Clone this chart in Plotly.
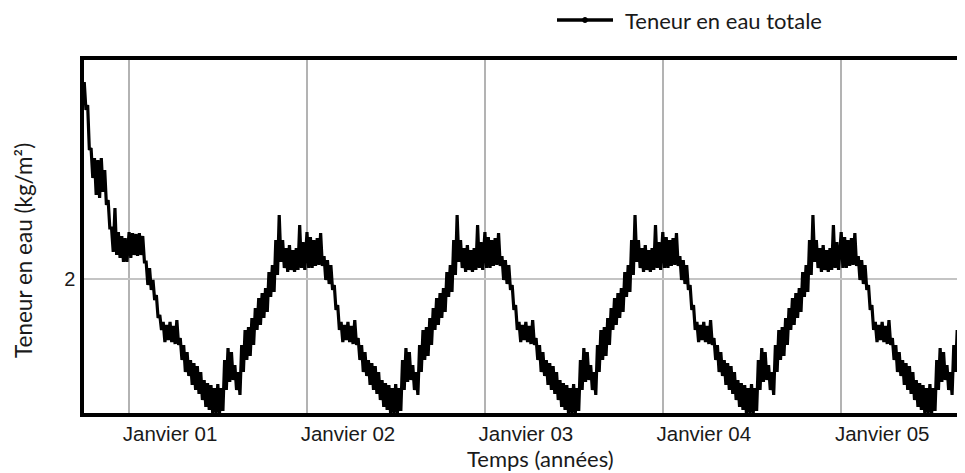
import pandas as pd
import plotly.graph_objects as go

# ---- data (weekly upper / lower envelope of the noisy series, kg/m2) ----
start_2000 = "2000-10-01"
hi_2000 = [2.788, 2.696, 2.524, 2.484, 2.476, 2.484, 2.436, 2.316, 2.204, 2.284, 2.188, 2.172, 2.164]
lo_2000 = [2.676, 2.516, 2.404, 2.336, 2.324, 2.348, 2.296, 2.204, 2.108, 2.096, 2.084, 2.068, 2.068]

hi_2001 = [2.188, 2.184, 2.180, 2.184, 2.172, 2.068, 2.044, 1.996, 1.936, 1.856,
           1.828, 1.816, 1.828, 1.812, 1.836, 1.764, 1.736, 1.708, 1.676, 1.664,
           1.652, 1.628, 1.596, 1.584, 1.576, 1.564, 1.580, 1.564, 1.676, 1.724,
           1.708, 1.656, 1.628, 1.736, 1.796, 1.808, 1.844, 1.884, 1.924, 1.944,
           1.964, 2.028, 2.056, 2.156, 2.256, 2.156, 2.124, 2.136, 2.116, 2.124,
           2.216, 2.148]
lo_2001 = [2.084, 2.096, 2.092, 2.096, 2.068, 1.976, 1.956, 1.916, 1.844, 1.796,
           1.748, 1.756, 1.748, 1.740, 1.736, 1.676, 1.628, 1.612, 1.576, 1.556,
           1.540, 1.516, 1.488, 1.476, 1.464, 1.464, 1.464, 1.472, 1.556, 1.588,
           1.596, 1.556, 1.536, 1.628, 1.676, 1.692, 1.736, 1.796, 1.816, 1.844,
           1.868, 1.928, 1.948, 2.016, 2.068, 2.044, 2.028, 2.036, 2.028, 2.036,
           2.044, 2.036]

hi_2002 = [2.188, 2.168, 2.156, 2.164, 2.184, 2.092, 2.076, 2.056, 1.976, 1.896,
           1.828, 1.816, 1.828, 1.812, 1.836, 1.764, 1.736, 1.708, 1.676, 1.664,
           1.652, 1.628, 1.596, 1.584, 1.576, 1.564, 1.580, 1.564, 1.676, 1.724,
           1.708, 1.656, 1.628, 1.736, 1.796, 1.808, 1.844, 1.884, 1.924, 1.944,
           1.964, 2.028, 2.056, 2.156, 2.256, 2.156, 2.124, 2.136, 2.116, 2.124,
           2.216, 2.148]
lo_2002 = [2.044, 2.044, 2.052, 2.056, 2.052, 1.996, 1.980, 1.956, 1.876, 1.796,
           1.748, 1.756, 1.748, 1.740, 1.736, 1.676, 1.628, 1.612, 1.576, 1.556,
           1.540, 1.516, 1.488, 1.476, 1.464, 1.464, 1.464, 1.472, 1.556, 1.588,
           1.596, 1.556, 1.536, 1.628, 1.676, 1.692, 1.736, 1.796, 1.816, 1.844,
           1.868, 1.928, 1.948, 2.016, 2.068, 2.044, 2.028, 2.036, 2.028, 2.036,
           2.044, 2.036]

hi_2003 = [2.188, 2.168, 2.156, 2.164, 2.184, 2.092, 2.076, 2.056, 1.976, 1.896,
           1.828, 1.816, 1.828, 1.812, 1.836, 1.764, 1.736, 1.708, 1.676, 1.664,
           1.652, 1.628, 1.596, 1.584, 1.576, 1.564, 1.580, 1.564, 1.676, 1.724,
           1.708, 1.656, 1.628, 1.736, 1.796, 1.808, 1.844, 1.884, 1.924, 1.944,
           1.964, 2.028, 2.056, 2.156, 2.256, 2.156, 2.124, 2.136, 2.116, 2.124,
           2.216, 2.148]
lo_2003 = [2.044, 2.044, 2.052, 2.056, 2.052, 1.996, 1.980, 1.956, 1.876, 1.796,
           1.748, 1.756, 1.748, 1.740, 1.736, 1.676, 1.628, 1.612, 1.576, 1.556,
           1.540, 1.516, 1.488, 1.476, 1.464, 1.464, 1.464, 1.472, 1.556, 1.588,
           1.596, 1.556, 1.536, 1.628, 1.676, 1.692, 1.736, 1.796, 1.816, 1.844,
           1.868, 1.928, 1.948, 2.016, 2.068, 2.044, 2.028, 2.036, 2.028, 2.036,
           2.044, 2.036]

hi_2004 = [2.188, 2.168, 2.156, 2.164, 2.184, 2.092, 2.076, 2.056, 1.976, 1.896,
           1.828, 1.816, 1.828, 1.812, 1.836, 1.764, 1.736, 1.708, 1.676, 1.664,
           1.652, 1.628, 1.596, 1.584, 1.576, 1.564, 1.580, 1.564, 1.676, 1.724,
           1.708, 1.656, 1.628, 1.736, 1.796, 1.808, 1.844, 1.884, 1.924, 1.944,
           1.964, 2.028, 2.056, 2.156, 2.256, 2.156, 2.124, 2.136, 2.116, 2.124,
           2.216, 2.148]
lo_2004 = [2.044, 2.044, 2.052, 2.056, 2.052, 1.996, 1.980, 1.956, 1.876, 1.796,
           1.748, 1.756, 1.748, 1.740, 1.736, 1.676, 1.628, 1.612, 1.576, 1.556,
           1.540, 1.516, 1.488, 1.476, 1.464, 1.464, 1.464, 1.472, 1.556, 1.588,
           1.596, 1.556, 1.536, 1.628, 1.676, 1.692, 1.736, 1.796, 1.816, 1.844,
           1.868, 1.928, 1.948, 2.016, 2.068, 2.044, 2.028, 2.036, 2.028, 2.036,
           2.044, 2.036]

hi_2005 = [2.188, 2.168, 2.156, 2.164, 2.184, 2.092, 2.076, 2.056, 1.976, 1.896,
           1.828, 1.816, 1.828, 1.812, 1.836, 1.764, 1.736, 1.708, 1.676, 1.664,
           1.652, 1.628, 1.596, 1.584, 1.576, 1.564, 1.580, 1.564, 1.676, 1.724,
           1.708, 1.656, 1.628, 1.736, 1.796, 1.808, 1.844, 1.884]
lo_2005 = [2.044, 2.044, 2.052, 2.056, 2.052, 1.996, 1.980, 1.956, 1.876, 1.796,
           1.748, 1.756, 1.748, 1.740, 1.736, 1.676, 1.628, 1.612, 1.576, 1.556,
           1.540, 1.516, 1.488, 1.476, 1.464, 1.464, 1.464, 1.472, 1.556, 1.588,
           1.596, 1.556, 1.536, 1.628, 1.676, 1.692, 1.736, 1.796]

tick_dates = ["2001-01-01", "2002-01-01", "2003-01-01", "2004-01-01", "2005-01-01"]
tick_labels = ["Janvier 01", "Janvier 02", "Janvier 03", "Janvier 04", "Janvier 05"]
series_name = "Teneur en eau totale"

# ---- build the noisy line: weekly max then mid-week min ----
segments = [(start_2000, hi_2000, lo_2000)]
for yr, hi, lo in [(2001, hi_2001, lo_2001), (2002, hi_2002, lo_2002), (2003, hi_2003, lo_2003),
                   (2004, hi_2004, lo_2004), (2005, hi_2005, lo_2005)]:
    segments.append((f"{yr}-01-01", hi, lo))

xs, ys = [], []
for start, hi, lo in segments:
    t0 = pd.Timestamp(start)
    for i, (h, l) in enumerate(zip(hi, lo)):
        d = t0 + pd.Timedelta(days=7 * i)
        xs.append(d)
        ys.append(h)
        xs.append(d + pd.Timedelta(hours=84))
        ys.append(l)

fig = go.Figure()
fig.add_trace(go.Scatter(
    x=xs, y=ys, mode="lines", name=series_name, showlegend=False,
    line=dict(color="black", width=3.2, simplify=False),
))

title_font = dict(family="Lato", size=22, color="#1a1a1a")

# page has an 8px body margin: figure coords = page coords - 8
L, T, PW, PH = 76, 52, 881, 353


def px(xf):
    return (xf - L) / PW


def py(yf):
    return (T + PH - yf) / PH


# legend drawn as line + dot + text (placed above the plot like the original)
shapes = [
    dict(type="line", xref="paper", yref="paper", x0=px(549), x1=px(605), y0=py(12), y1=py(12),
         line=dict(color="black", width=3.5)),
    dict(type="circle", xref="paper", yref="paper", x0=px(574.5), x1=px(579.5),
         y0=py(14.5), y1=py(9.5), fillcolor="black", line=dict(color="black", width=1)),
]

fig.update_layout(
    width=957, height=465,
    margin=dict(l=L, r=0, t=T, b=465 - T - PH),
    paper_bgcolor="white", plot_bgcolor="white",
    showlegend=False,
    shapes=shapes,
    annotations=[
        dict(text=series_name, xref="paper", yref="paper", x=px(615), y=py(12),
             xanchor="left", yanchor="middle", showarrow=False, font=title_font),
        dict(text="Temps (années)", xref="paper", yref="paper", x=px(532), y=py(450.5),
             xanchor="center", yanchor="middle", showarrow=False,
             font=dict(family="Lato", size=22, color="#1a1a1a")),
        dict(text="Teneur en eau (kg/m²)", xref="paper", yref="paper", x=px(15), y=py(243),
             xanchor="center", yanchor="middle", showarrow=False, textangle=-90,
             font=dict(family="Lato", size=22.5, color="#1a1a1a")),
    ],
)

fig.update_xaxes(
    type="date", range=["2000-09-30 12:00", "2005-09-12"],
    tickmode="array", tickvals=tick_dates, ticktext=tick_labels, ticklabelshift=41,
    showgrid=True, gridcolor="#b3b3b3", gridwidth=2,
    showline=True, linecolor="black", linewidth=3.5, mirror=True,
    ticks="", tickfont=dict(family="Liberation Sans", size=20.5, color="#1a1a1a"),
    zeroline=False,
)
fig.update_yaxes(
    range=[1.464, 2.876], tickmode="array", tickvals=[2], ticktext=["2"],
    showgrid=True, gridcolor="#c4c4c4", gridwidth=1.5,
    showline=True, linecolor="black", linewidth=3.5, mirror=False,
    ticks="", ticklabelstandoff=1,
    tickfont=dict(family="Liberation Sans", size=20, color="#1a1a1a"),
    zeroline=False,
)

fig.write_html("out.html")
